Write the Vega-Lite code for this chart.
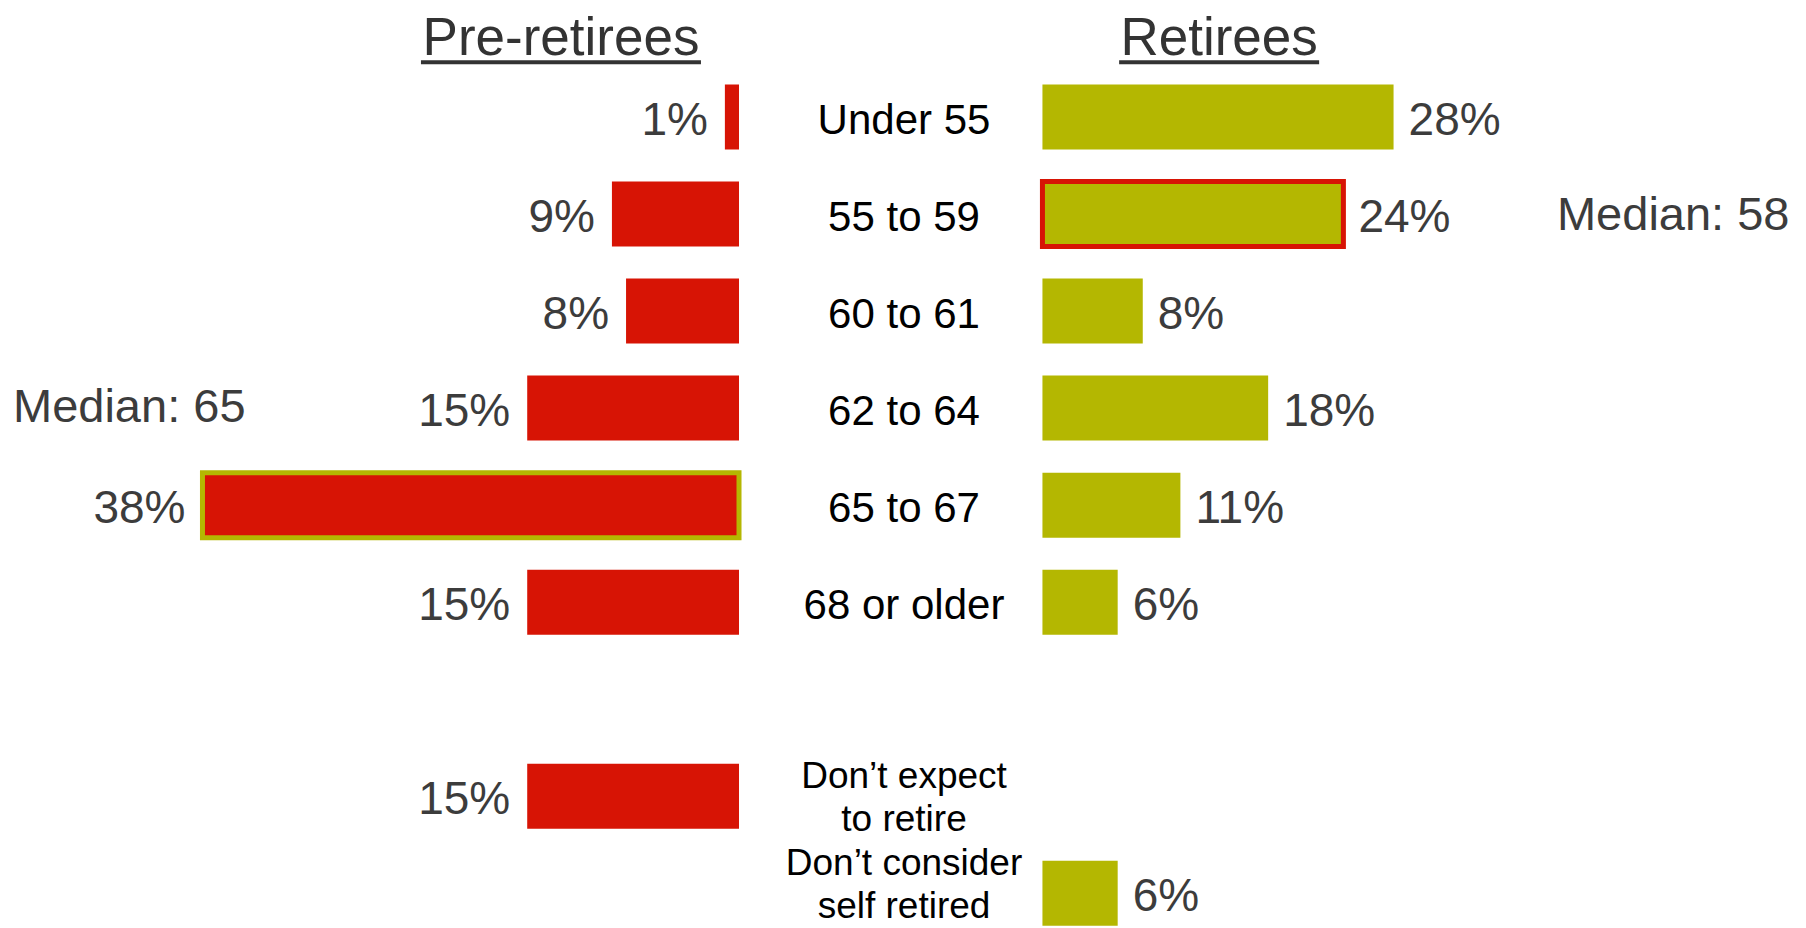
{
  "$schema": "https://vega.github.io/schema/vega-lite/v6.json",
  "width": 1806,
  "height": 928,
  "autosize": {"type": "none"},
  "padding": 0,
  "background": "white",
  "config": {"view": {"stroke": null}, "font": "Liberation Sans"},
  "datasets": {
    "rows": [
      {"row": 1, "cat": "Under 55", "pre": 0.01, "ret": 0.28},
      {"row": 2, "cat": "55 to 59", "pre": 0.09, "ret": 0.24},
      {"row": 3, "cat": "60 to 61", "pre": 0.08, "ret": 0.08},
      {"row": 4, "cat": "62 to 64", "pre": 0.15, "ret": 0.18},
      {"row": 5, "cat": "65 to 67", "pre": 0.38, "ret": 0.11},
      {"row": 6, "cat": "68 or older", "pre": 0.15, "ret": 0.06},
      {"row": 8, "cat": ["Don’t expect", "to retire"], "pre": 0.15, "ret": null},
      {"row": 9, "cat": ["Don’t consider", "self retired"], "pre": null, "ret": 0.06}
    ]
  },
  "resolve": {"scale": {"x": "independent"}},
  "layer": [
    {
      "data": {"name": "rows"},
      "mark": {"type": "bar", "orient": "horizontal", "size": 65, "clip": true, "color": "#D71405", "strokeWidth": 5},
      "encoding": {
        "x": {"field": "pre", "type": "quantitative", "stack": null, "scale": {"domain": [-0.7557, 0.5234], "reverse": true, "nice": false, "zero": false}, "axis": null},
        "y": {"field": "row", "type": "quantitative", "scale": {"domain": [-0.1553, 9.3073], "reverse": true, "nice": false, "zero": false}, "axis": null},
        "stroke": {"condition": {"test": "datum.row === 5", "value": "#B4B701"}, "value": "transparent"}
      }
    },
    {
      "data": {"name": "rows"},
      "mark": {"type": "text", "align": "right", "baseline": "middle", "dx": -17, "dy": 4, "fontSize": 46, "color": "#3c3c3c"},
      "encoding": {
        "x": {"field": "pre", "type": "quantitative", "scale": {"domain": [-0.7557, 0.5234], "reverse": true, "nice": false, "zero": false}, "axis": null},
        "y": {"field": "row", "type": "quantitative", "scale": {"domain": [-0.1553, 9.3073], "reverse": true, "nice": false, "zero": false}, "axis": null},
        "text": {"field": "pre", "type": "quantitative", "format": ".0%"}
      }
    },
    {
      "data": {"name": "rows"},
      "mark": {"type": "bar", "orient": "horizontal", "size": 65, "clip": true, "color": "#B4B701", "strokeWidth": 5},
      "encoding": {
        "x": {"field": "ret", "type": "quantitative", "stack": null, "scale": {"domain": [-0.8313, 0.6089], "nice": false, "zero": false}, "axis": null},
        "y": {"field": "row", "type": "quantitative", "scale": {"domain": [-0.1553, 9.3073], "reverse": true, "nice": false, "zero": false}, "axis": null},
        "stroke": {"condition": {"test": "datum.row === 2", "value": "#D71405"}, "value": "transparent"}
      }
    },
    {
      "data": {"name": "rows"},
      "mark": {"type": "text", "align": "left", "baseline": "middle", "dx": 15, "dy": 4, "fontSize": 46, "color": "#3c3c3c"},
      "encoding": {
        "x": {"field": "ret", "type": "quantitative", "scale": {"domain": [-0.8313, 0.6089], "nice": false, "zero": false}, "axis": null},
        "y": {"field": "row", "type": "quantitative", "scale": {"domain": [-0.1553, 9.3073], "reverse": true, "nice": false, "zero": false}, "axis": null},
        "text": {"field": "ret", "type": "quantitative", "format": ".0%"}
      }
    },
    {
      "data": {"name": "rows"},
      "transform": [{"filter": "datum.row <= 6"}],
      "mark": {"type": "text", "align": "center", "baseline": "middle", "dy": 4, "fontSize": 42, "color": "#000000"},
      "encoding": {
        "x": {"datum": -0.1104, "type": "quantitative", "scale": {"domain": [-0.8313, 0.6089], "nice": false, "zero": false}, "axis": null},
        "y": {"field": "row", "type": "quantitative", "scale": {"domain": [-0.1553, 9.3073], "reverse": true, "nice": false, "zero": false}, "axis": null},
        "text": {"field": "cat", "type": "nominal"}
      }
    },
    {
      "data": {"name": "rows"},
      "transform": [{"filter": "datum.row === 8"}],
      "mark": {"type": "text", "align": "center", "baseline": "alphabetic", "dy": -8, "fontSize": 37, "lineHeight": 43, "color": "#000000"},
      "encoding": {
        "x": {"datum": -0.1104, "type": "quantitative", "scale": {"domain": [-0.8313, 0.6089], "nice": false, "zero": false}, "axis": null},
        "y": {"field": "row", "type": "quantitative", "scale": {"domain": [-0.1553, 9.3073], "reverse": true, "nice": false, "zero": false}, "axis": null},
        "text": {"field": "cat", "type": "nominal"}
      }
    },
    {
      "data": {"name": "rows"},
      "transform": [{"filter": "datum.row === 9"}],
      "mark": {"type": "text", "align": "center", "baseline": "alphabetic", "dy": -18, "fontSize": 37, "lineHeight": 43, "color": "#000000"},
      "encoding": {
        "x": {"datum": -0.1104, "type": "quantitative", "scale": {"domain": [-0.8313, 0.6089], "nice": false, "zero": false}, "axis": null},
        "y": {"field": "row", "type": "quantitative", "scale": {"domain": [-0.1553, 9.3073], "reverse": true, "nice": false, "zero": false}, "axis": null},
        "text": {"field": "cat", "type": "nominal"}
      }
    },
    {
      "data": {"values": [{"label": "Pre-retirees"}]},
      "mark": {"type": "text", "align": "center", "baseline": "alphabetic", "fontSize": 53, "color": "#333333"},
      "encoding": {
        "x": {"datum": 0.1261, "type": "quantitative", "scale": {"domain": [-0.7557, 0.5234], "reverse": true, "nice": false, "zero": false}, "axis": null},
        "y": {"datum": 0.3617, "type": "quantitative", "scale": {"domain": [-0.1553, 9.3073], "reverse": true, "nice": false, "zero": false}, "axis": null},
        "text": {"field": "label", "type": "nominal"}
      }
    },
    {
      "data": {"values": [{"label": "Pre-retirees"}]},
      "mark": {"type": "rule", "strokeWidth": 4, "color": "#333333", "xOffset": -140, "x2Offset": 140},
      "encoding": {
        "x": {"datum": 0.1261, "type": "quantitative", "scale": {"domain": [-0.7557, 0.5234], "reverse": true, "nice": false, "zero": false}, "axis": null},
        "x2": {"datum": 0.1261},
        "y": {"datum": 0.4361, "type": "quantitative", "scale": {"domain": [-0.1553, 9.3073], "reverse": true, "nice": false, "zero": false}, "axis": null}
      }
    },
    {
      "data": {"values": [{"label": "Retirees"}]},
      "mark": {"type": "text", "align": "center", "baseline": "alphabetic", "fontSize": 53, "color": "#333333"},
      "encoding": {
        "x": {"datum": 0.1409, "type": "quantitative", "scale": {"domain": [-0.8313, 0.6089], "nice": false, "zero": false}, "axis": null},
        "y": {"datum": 0.3617, "type": "quantitative", "scale": {"domain": [-0.1553, 9.3073], "reverse": true, "nice": false, "zero": false}, "axis": null},
        "text": {"field": "label", "type": "nominal"}
      }
    },
    {
      "data": {"values": [{"label": "Retirees"}]},
      "mark": {"type": "rule", "strokeWidth": 4, "color": "#333333", "xOffset": -100, "x2Offset": 100},
      "encoding": {
        "x": {"datum": 0.1409, "type": "quantitative", "scale": {"domain": [-0.8313, 0.6089], "nice": false, "zero": false}, "axis": null},
        "x2": {"datum": 0.1409},
        "y": {"datum": 0.4361, "type": "quantitative", "scale": {"domain": [-0.1553, 9.3073], "reverse": true, "nice": false, "zero": false}, "axis": null}
      }
    },
    {
      "data": {"values": [{"label": "Median: 65"}]},
      "mark": {"type": "text", "align": "left", "baseline": "middle", "dy": 3, "fontSize": 47, "color": "#3c3c3c"},
      "encoding": {
        "x": {"datum": 0.5142, "type": "quantitative", "scale": {"domain": [-0.7557, 0.5234], "reverse": true, "nice": false, "zero": false}, "axis": null},
        "y": {"datum": 3.964, "type": "quantitative", "scale": {"domain": [-0.1553, 9.3073], "reverse": true, "nice": false, "zero": false}, "axis": null},
        "text": {"field": "label", "type": "nominal"}
      }
    },
    {
      "data": {"values": [{"label": "Median: 58"}]},
      "mark": {"type": "text", "align": "left", "baseline": "middle", "dy": 3, "fontSize": 47, "color": "#3c3c3c"},
      "encoding": {
        "x": {"datum": 0.4103, "type": "quantitative", "scale": {"domain": [-0.8313, 0.6089], "nice": false, "zero": false}, "axis": null},
        "y": {"datum": 1.986, "type": "quantitative", "scale": {"domain": [-0.1553, 9.3073], "reverse": true, "nice": false, "zero": false}, "axis": null},
        "text": {"field": "label", "type": "nominal"}
      }
    }
  ]
}
